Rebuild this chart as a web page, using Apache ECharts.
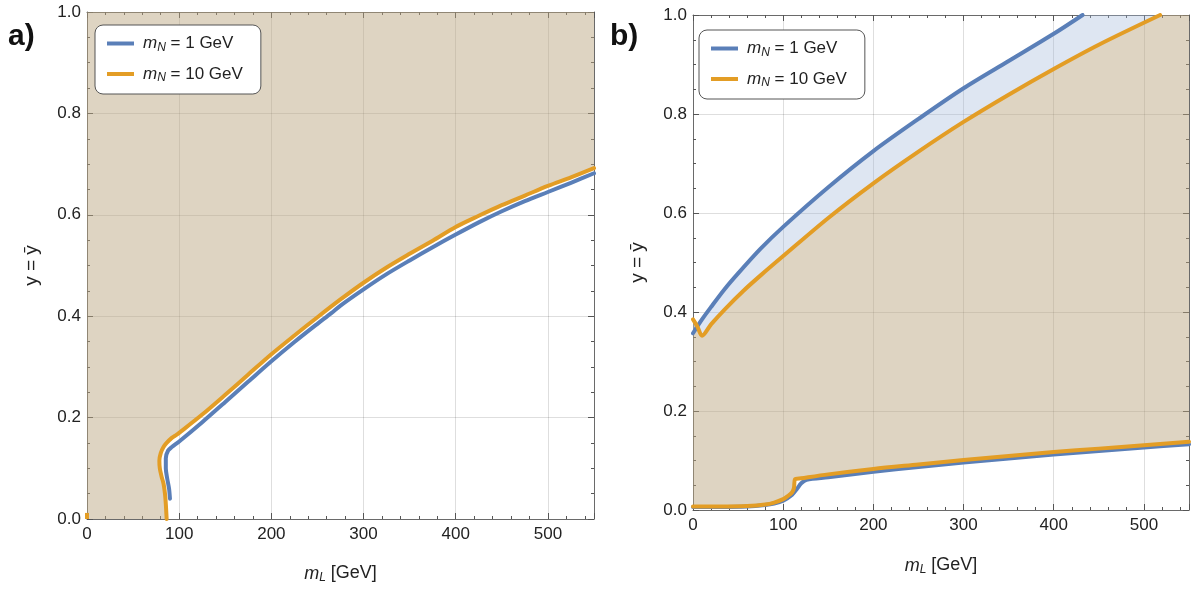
<!DOCTYPE html>
<html>
<head>
<meta charset="utf-8">
<script src="https://cdn.jsdelivr.net/npm/echarts@6/dist/echarts.min.js"></script>
<style>
  html, body { margin: 0; padding: 0; background: #fff; }
  #chart { width: 1200px; height: 590px; }
</style>
</head>
<body>
<div id="chart"></div>
<script>
// ---- axis settings ----
const xMin = 0, xMax = 550, xStep = 100;
const yMin = 0, yMax = 1, yStep = 0.2;

// ---- panel a) : exclusion boundary ----
const aBlueX = [90, 89, 87, 85.5, 85.5, 88, 92, 100, 125, 150, 175, 200, 225, 250, 265, 275, 300, 325, 350, 375, 400, 425, 450, 475, 500, 525, 550];
const aBlueY = [0.04, 0.06, 0.08, 0.10, 0.12, 0.135, 0.142, 0.153, 0.191, 0.231, 0.271, 0.311, 0.349, 0.385, 0.406, 0.421, 0.453, 0.483, 0.510, 0.536, 0.561, 0.585, 0.607, 0.627, 0.645, 0.663, 0.682];
const aOrangeX = [86.4, 85.5, 84.6, 83, 81, 79, 78.5, 80, 83, 86.4, 92, 97, 100, 125, 150, 175, 200, 225, 250, 275, 300, 325, 350, 375, 400, 425, 450, 475, 500, 525, 550];
const aOrangeY = [0, 0.03, 0.05, 0.07, 0.083, 0.10, 0.115, 0.13, 0.142, 0.15, 0.16, 0.166, 0.170, 0.206, 0.245, 0.285, 0.325, 0.362, 0.398, 0.433, 0.466, 0.496, 0.523, 0.549, 0.576, 0.598, 0.619, 0.638, 0.657, 0.674, 0.692];
const aStubX = [0, 0];
const aStubY = [0, 0.012];

// ---- panel b) : upper and lower boundaries ----
const bBlueUpX = [0, 10, 20, 35, 50, 75, 100, 150, 200, 250, 300, 350, 400, 432];
const bBlueUpY = [0.357, 0.385, 0.41, 0.446, 0.478, 0.528, 0.572, 0.652, 0.725, 0.79, 0.852, 0.907, 0.962, 1.0];
const bOrangeUpX = [0, 5, 10, 20, 35, 56, 75, 100, 150, 200, 250, 300, 350, 400, 450, 518];
const bOrangeUpY = [0.385, 0.37, 0.352, 0.375, 0.405, 0.443, 0.474, 0.513, 0.59, 0.66, 0.724, 0.784, 0.839, 0.891, 0.94, 1.0];
const bBlueLowX = [0, 30, 60, 80, 90, 100, 110, 115, 120, 126, 150, 200, 250, 300, 350, 400, 450, 500, 550];
const bBlueLowY = [0.006, 0.006, 0.007, 0.010, 0.013, 0.019, 0.031, 0.042, 0.054, 0.061, 0.066, 0.077, 0.087, 0.096, 0.104, 0.112, 0.119, 0.126, 0.133];
const bOrangeLowX = [0, 30, 60, 80, 90, 100, 105, 110, 112, 113, 120, 150, 200, 250, 300, 350, 400, 450, 500, 550];
const bOrangeLowY = [0.007, 0.007, 0.008, 0.011, 0.015, 0.022, 0.028, 0.036, 0.045, 0.062, 0.064, 0.072, 0.083, 0.092, 0.101, 0.109, 0.117, 0.124, 0.131, 0.138];

const names = ['mN1', 'mN10'];
const legendText = { mN1: '{i|m}{s|N}{t| = 1 GeV}', mN10: '{i|m}{s|N}{t| = 10 GeV}' };

const BLUE = '#5a7fb8';
const ORANGE = '#e39d25';
const TAN = 'rgba(186,166,128,0.48)';
const LIGHTBLUE = 'rgba(160,182,218,0.35)';
const FONT = '"Liberation Sans", Arial, sans-serif';

const zip = (xs, ys) => xs.map((x, i) => [x, ys[i]]);

const aBlue = zip(aBlueX, aBlueY);
const aOrange = zip(aOrangeX, aOrangeY);
const bBlueUp = zip(bBlueUpX, bBlueUpY);
const bOrangeUp = zip(bOrangeUpX, bOrangeUpY);
const bBlueLow = zip(bBlueLowX, bBlueLowY);
const bOrangeLow = zip(bOrangeLowX, bOrangeLowY);

// Regions (built from the curves plus the plot-range corners)
const aTanRegion = [[xMin, yMin]].concat(aOrange, [[xMax, yMax], [xMin, yMax]]);
const bTanRegion = bOrangeUp.concat([[xMax, yMax]], bOrangeLow.slice().reverse());
const bBlueRegion = bBlueUp.concat(bOrangeUp.slice().reverse());

const richLegend = {
  i: { fontStyle: 'italic', fontSize: 17, fontFamily: FONT, color: '#222' },
  s: { fontStyle: 'italic', fontSize: 12, fontFamily: FONT, color: '#222', verticalAlign: 'bottom', padding: [8, 0, 0, 0] },
  t: { fontSize: 17, fontFamily: FONT, color: '#222' }
};
const richAxisName = {
  i: { fontStyle: 'italic', fontSize: 18, fontFamily: FONT, color: '#222' },
  s: { fontStyle: 'italic', fontSize: 12, fontFamily: FONT, color: '#222', verticalAlign: 'bottom', padding: [9, 0, 0, 0] },
  t: { fontSize: 18, fontFamily: FONT, color: '#222' }
};

const grids = [
  { left: 87, top: 12, width: 507, height: 507 },
  { left: 693, top: 15, width: 496, height: 495 }
];

function xAxes(gi, nameGap) {
  return [
    {
      gridIndex: gi, type: 'value', min: xMin, max: xMax, interval: xStep, position: 'bottom',
      name: '{i|m}{s|L}{t| [GeV]}', nameLocation: 'middle', nameGap: nameGap,
      nameTextStyle: { rich: richAxisName },
      axisLine: { show: true, onZero: false, lineStyle: { color: '#6a6a6a', width: 1 } },
      axisTick: { show: true, inside: true, length: 6, lineStyle: { color: '#555' } },
      minorTick: { show: true, splitNumber: 5, length: 3, lineStyle: { color: '#555' } },
      axisLabel: { margin: 7, fontSize: 17, fontFamily: FONT, color: '#222', showMaxLabel: false },
      splitLine: { show: true, lineStyle: { color: 'rgba(0,0,0,0.13)', width: 1 } }
    },
    {
      gridIndex: gi, type: 'value', min: xMin, max: xMax, interval: xStep, position: 'top',
      axisLine: { show: true, onZero: false, lineStyle: { color: '#6a6a6a', width: 1 } },
      axisTick: { show: true, inside: true, length: 6, lineStyle: { color: '#555' } },
      minorTick: { show: true, splitNumber: 5, length: 3, lineStyle: { color: '#555' } },
      axisLabel: { show: false }, splitLine: { show: false }
    }
  ];
}
function yAxes(gi, nameGap) {
  return [
    {
      gridIndex: gi, type: 'value', min: yMin, max: yMax, interval: yStep, position: 'left',
      name: 'y = ȳ', nameLocation: 'middle', nameGap: nameGap,
      nameTextStyle: { fontSize: 19, fontFamily: FONT, color: '#222' },
      axisLine: { show: true, onZero: false, lineStyle: { color: '#6a6a6a', width: 1 } },
      axisTick: { show: true, inside: true, length: 6, lineStyle: { color: '#555' } },
      minorTick: { show: true, splitNumber: 4, length: 3, lineStyle: { color: '#555' } },
      axisLabel: { margin: 6, fontSize: 17, fontFamily: FONT, color: '#222', formatter: v => v.toFixed(1) },
      splitLine: { show: true, lineStyle: { color: 'rgba(0,0,0,0.13)', width: 1 } }
    },
    {
      gridIndex: gi, type: 'value', min: yMin, max: yMax, interval: yStep, position: 'right',
      axisLine: { show: true, onZero: false, lineStyle: { color: '#6a6a6a', width: 1 } },
      axisTick: { show: true, inside: true, length: 6, lineStyle: { color: '#555' } },
      minorTick: { show: true, splitNumber: 4, length: 3, lineStyle: { color: '#555' } },
      axisLabel: { show: false }, splitLine: { show: false }
    }
  ];
}

function region(points, fill, xi, yi) {
  return {
    type: 'custom', xAxisIndex: xi, yAxisIndex: yi, silent: true, clip: true, z: 1,
    data: [[0, 0]],
    renderItem: (params, api) => ({
      type: 'polygon',
      shape: { points: points.map(p => api.coord(p)) },
      style: { fill: fill, stroke: null }
    })
  };
}
function curve(name, data, color, xi, yi, width) {
  return {
    name: name, type: 'line', xAxisIndex: xi, yAxisIndex: yi, data: data,
    showSymbol: false, symbol: 'none', smooth: 0.3, z: 3, silent: true,
    lineStyle: { color: color, width: width || 4, cap: 'round', join: 'round' },
    itemStyle: { color: color }
  };
}

function legendFor(left, top) {
  return {
    data: names.map(n => ({ name: n, icon: 'rect' })),
    orient: 'vertical', left: left, top: top,
    itemWidth: 27, itemHeight: 4, itemGap: 12,
    padding: [10, 18, 10, 12],
    backgroundColor: '#fff', borderColor: '#555', borderWidth: 1, borderRadius: 8,
    selectedMode: false,
    formatter: n => legendText[n],
    textStyle: { rich: richLegend, padding: [0, 0, 0, 4] }
  };
}

const chart = echarts.init(document.getElementById('chart'), null, { renderer: 'canvas' });
chart.setOption({
  animation: false,
  backgroundColor: '#fff',
  grid: grids,
  xAxis: xAxes(0, 44).concat(xAxes(1, 45)),
  yAxis: yAxes(0, 46).concat(yAxes(1, 46)),
  legend: [legendFor(95, 25), legendFor(699, 30)],
  graphic: [
    { type: 'text', left: 8, top: 22, style: { text: 'a)', font: 'bold 30px ' + FONT, fill: '#111' } },
    { type: 'text', left: 610, top: 22, style: { text: 'b)', font: 'bold 30px ' + FONT, fill: '#111' } }
  ],
  series: [
    region(aTanRegion, TAN, 0, 0),
    curve('mN1', aBlue, BLUE, 0, 0),
    curve('mN10', aOrange, ORANGE, 0, 0),
    { type: 'line', xAxisIndex: 0, yAxisIndex: 0, data: zip(aStubX, aStubY), showSymbol: false, z: 3, silent: true,
      lineStyle: { color: ORANGE, width: 4 } },

    region(bTanRegion, TAN, 2, 2),
    region(bBlueRegion, LIGHTBLUE, 2, 2),
    curve('mN1', bBlueLow, BLUE, 2, 2),
    curve('mN10', bOrangeLow, ORANGE, 2, 2),
    curve('mN1', bBlueUp, BLUE, 2, 2),
    curve('mN10', bOrangeUp, ORANGE, 2, 2)
  ]
});
</script>
</body>
</html>
